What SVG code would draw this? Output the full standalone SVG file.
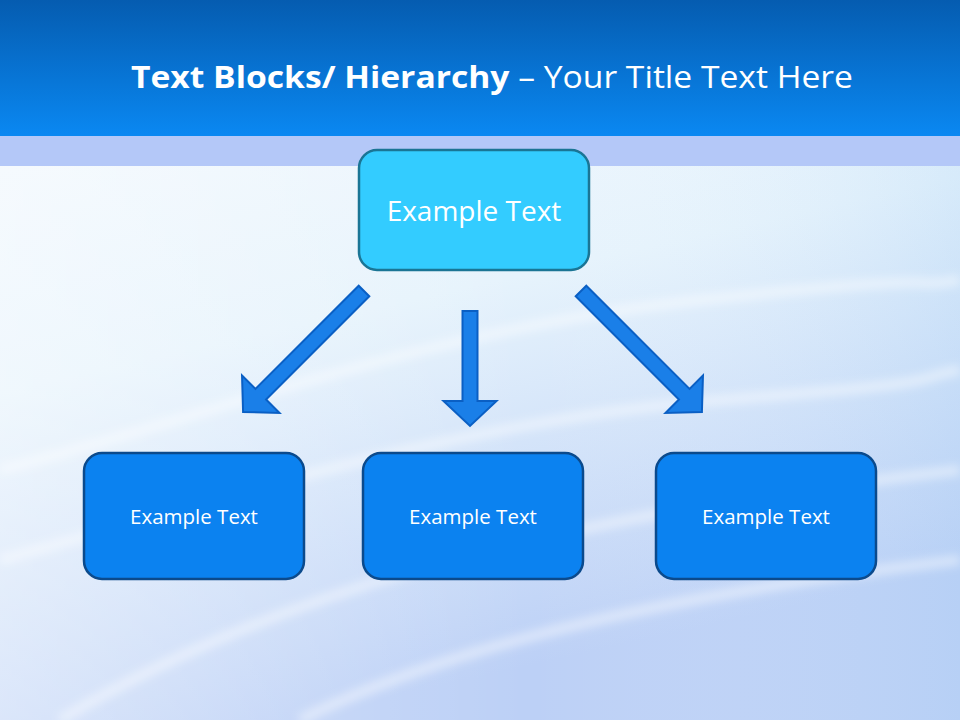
<svg xmlns="http://www.w3.org/2000/svg" width="960" height="720" viewBox="0 0 960 720">
<defs>
<linearGradient id="hdr" x1="0" y1="0" x2="0" y2="1">
<stop offset="0" stop-color="#055cb0"/>
<stop offset="1" stop-color="#0a88f2"/>
</linearGradient>
<linearGradient id="bg" x1="0" y1="0" x2="0.3" y2="1">
<stop offset="0" stop-color="#f6faff"/>
<stop offset="0.5" stop-color="#e6f3fc"/>
<stop offset="1" stop-color="#bcd0f6"/>
</linearGradient>
<linearGradient id="bg2" x1="0" y1="0" x2="1" y2="0">
<stop offset="0" stop-color="#ffffff" stop-opacity="0.4"/>
<stop offset="0.55" stop-color="#ffffff" stop-opacity="0"/>
<stop offset="1" stop-color="#a8d0f4" stop-opacity="0.25"/>
</linearGradient>
<filter id="soft" x="-10%" y="-10%" width="120%" height="120%">
<feGaussianBlur stdDeviation="5"/>
</filter>
<style>
.top rect{fill:#33ccff;stroke:#1a7595;stroke-width:2.5}
.bot rect{fill:#0b82f0;stroke:#0b4a8c;stroke-width:2.5}
text{font-family:"Open Sans","Noto Sans","Liberation Sans",sans-serif;fill:#ffffff;text-anchor:middle}
.arrow{fill:#1a7fe8;stroke:#0a5fc4;stroke-width:2;stroke-linejoin:miter}
</style>
</defs>
<rect x="0" y="0" width="960" height="720" fill="url(#bg)"/>
<rect x="0" y="166" width="960" height="554" fill="url(#bg2)"/>
<g fill="none" stroke="#ffffff" stroke-opacity="0.45" stroke-width="10" filter="url(#soft)">
<path d="M0,470 C200,420 420,330 700,300 S900,290 960,280"/>
<path d="M0,560 C220,500 460,420 720,400 S900,380 960,370"/>
<path d="M60,720 C260,600 520,520 960,470"/>
<path d="M300,720 C460,640 700,590 960,560"/>
</g>
<rect x="0" y="0" width="960" height="136" fill="url(#hdr)"/>
<rect x="0" y="136" width="960" height="30" fill="#b4c8f8"/>
<text x="492" y="88" font-size="31" textLength="722" lengthAdjust="spacingAndGlyphs"><tspan font-weight="bold">Text Blocks/ Hierarchy</tspan> – Your Title Text Here</text>
<g id="connectors">
<polygon class="arrow" transform="translate(364,291) rotate(135)" points="0,-7.5 146,-7.5 146,-26.5 171,0 146,26.5 146,7.5 0,7.5"/>
<polygon class="arrow" transform="translate(470,311) rotate(90)" points="0,-7.5 90,-7.5 90,-26.5 115,0 90,26.5 90,7.5 0,7.5"/>
<polygon class="arrow" transform="translate(581,291) rotate(45)" points="0,-7.5 146,-7.5 146,-26.5 171,0 146,26.5 146,7.5 0,7.5"/>
</g>
<g id="node-top" class="top">
<rect x="359" y="150" width="230" height="120" rx="18"/>
<text x="474" y="221" font-size="28">Example Text</text>
</g>
<g id="node-left" class="bot">
<rect x="84" y="453" width="220" height="126" rx="18"/>
<text x="194" y="524" font-size="20.5">Example Text</text>
</g>
<g id="node-mid" class="bot">
<rect x="363" y="453" width="220" height="126" rx="18"/>
<text x="473" y="524" font-size="20.5">Example Text</text>
</g>
<g id="node-right" class="bot">
<rect x="656" y="453" width="220" height="126" rx="18"/>
<text x="766" y="524" font-size="20.5">Example Text</text>
</g>
</svg>
